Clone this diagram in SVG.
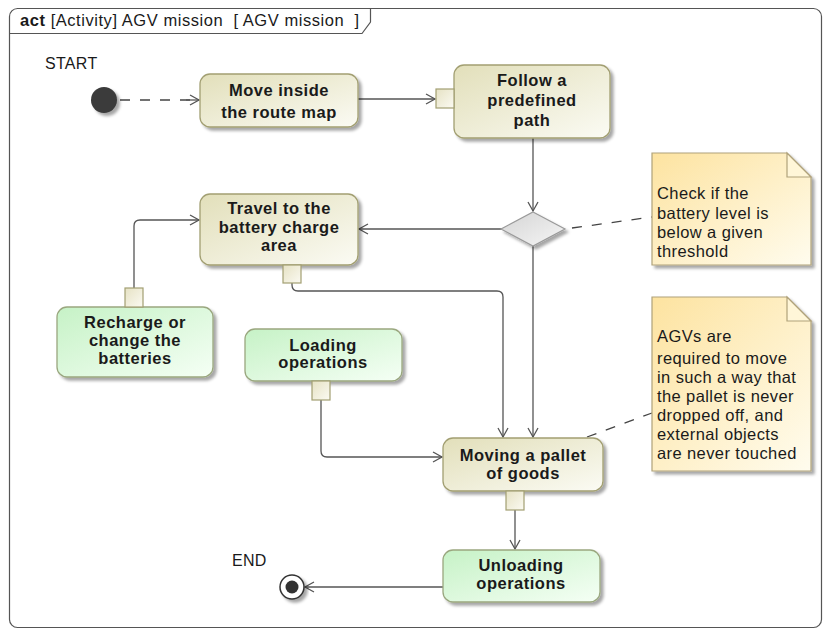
<svg xmlns="http://www.w3.org/2000/svg" width="830" height="630" viewBox="0 0 830 630">
  <defs>
    <linearGradient id="actFill" x1="0" y1="0" x2="1" y2="1">
      <stop offset="0" stop-color="#e2dfba"/>
      <stop offset="1" stop-color="#fbfbf4"/>
    </linearGradient>
    <linearGradient id="greenFill" x1="0" y1="0" x2="1" y2="1">
      <stop offset="0" stop-color="#c6f2c6"/>
      <stop offset="1" stop-color="#f5fff5"/>
    </linearGradient>
    <linearGradient id="noteFill" x1="0" y1="0" x2="1" y2="1">
      <stop offset="0" stop-color="#fde3a0"/>
      <stop offset="1" stop-color="#fffcee"/>
    </linearGradient>
    <linearGradient id="decisionFill" x1="0" y1="0" x2="1" y2="1">
      <stop offset="0" stop-color="#d4d4d4"/>
      <stop offset="1" stop-color="#f6f6f6"/>
    </linearGradient>
    <linearGradient id="pinFill" x1="0" y1="0" x2="1" y2="1">
      <stop offset="0" stop-color="#e6e2c4"/>
      <stop offset="1" stop-color="#fbfaf2"/>
    </linearGradient>
    <filter id="shadow" x="-10%" y="-10%" width="130%" height="140%">
      <feDropShadow dx="3" dy="3" stdDeviation="1.4" flood-color="#000" flood-opacity="0.35"/>
    </filter>
    <marker id="open" markerUnits="userSpaceOnUse" markerWidth="12" markerHeight="12" refX="10" refY="6" orient="auto">
      <path d="M1,1 L10,6 L1,11" fill="none" stroke="#555" stroke-width="1.3"/>
    </marker>
  </defs>
  <style>
    text { font-family: "Liberation Sans", Arial, sans-serif; fill: #1a1a1a; }
    .lbl { font-size: 16.5px; font-weight: bold; letter-spacing: 0.5px; text-anchor: middle; }
    .note-t { font-size: 16.5px; letter-spacing: 0.4px; }
    .plain { font-size: 16px; letter-spacing: 0.3px; }
    .act { fill: url(#actFill); stroke: #a29f72; stroke-width: 1.3; filter: url(#shadow); }
    .green { fill: url(#greenFill); stroke: #9aa77f; stroke-width: 1.3; filter: url(#shadow); }
    .pin { fill: url(#pinFill); stroke: #a29f72; stroke-width: 1.2; }
    .note { fill: url(#noteFill); stroke: #b0a27a; stroke-width: 1.2; filter: url(#shadow); }
    .fold { fill: #fff6d8; stroke: #b0a27a; stroke-width: 1.2; }
    .flow { fill: none; stroke: #555; stroke-width: 1.3; marker-end: url(#open); }
    .anchor { fill: none; stroke: #444; stroke-width: 1.3; stroke-dasharray: 10 10; }
  </style>

  <!-- activity frame -->
  <g id="frame">
    <rect x="9.5" y="8.5" width="812" height="619" rx="8" fill="#fff" stroke="#555" stroke-width="1.2"/>
    <path d="M9.5,33.5 L362,33.5 L370.5,22 L370.5,8.5" fill="none" stroke="#555" stroke-width="1.2"/>
    <text x="20" y="26" xml:space="preserve" style="font-size:16.5px;letter-spacing:0.55px;white-space:pre"><tspan font-weight="bold">act</tspan> [Activity] AGV mission  [ AGV mission  ]</text>
  </g>

  <!-- control flows -->
  <g id="connectors">
    <path class="anchor" d="M120,100 L190,100"/>
    <path class="flow" d="M186,100 L199,100"/>
    <path class="flow" d="M358,99 L435,99"/>
    <path class="flow" d="M533,138 L533,211"/>
    <path class="flow" d="M502,229 L359,229"/>
    <path class="flow" d="M533,246 L533,437"/>
    <path class="flow" d="M292,283 L292,285 Q292,291 298,291 L497,291 Q503,291 503,297 L503,437"/>
    <path class="flow" d="M134,288 L134,226 Q134,220 140,220 L199,220"/>
    <path class="flow" d="M321,400 L321,451 Q321,457 327,457 L442,457"/>
    <path class="flow" d="M515,510 L515,549"/>
    <path class="flow" d="M443,587 L305,587"/>
    <path class="anchor" d="M572,228 L652,217"/>
    <path class="anchor" d="M587,437 L652,413"/>
  </g>

  <g id="start">
    <text class="plain" x="45" y="69">START</text>
    <circle cx="104" cy="100" r="13" fill="#3a3a3a" filter="url(#shadow)"/>
  </g>

  <g id="move-inside">
    <rect class="act" x="200" y="74" width="158" height="53" rx="10"/>
    <text class="lbl" x="279" y="96">Move inside</text>
    <text class="lbl" x="279" y="118">the route map</text>
  </g>

  <g id="follow-path">
    <rect class="act" x="454" y="65" width="156" height="73" rx="10"/>
    <rect class="pin" x="436" y="89" width="18" height="19"/>
    <text class="lbl" x="532" y="86">Follow a</text>
    <text class="lbl" x="532" y="106">predefined</text>
    <text class="lbl" x="532" y="126">path</text>
  </g>

  <g id="battery-check">
    <path d="M533,212 L565,229 L533,246 L501,229 Z" fill="url(#decisionFill)" stroke="#9a9a9a" stroke-width="1.2" filter="url(#shadow)"/>
  </g>

  <g id="note-battery">
    <path class="note" d="M652,153 L787,153 L811,177 L811,265 L652,265 Z"/>
    <path class="fold" d="M787,153 L787,177 L811,177 Z"/>
    <text class="note-t" x="657" y="199">Check if the</text>
    <text class="note-t" x="657" y="219">battery level is</text>
    <text class="note-t" x="657" y="238">below a given</text>
    <text class="note-t" x="657" y="257">threshold</text>
  </g>

  <g id="travel-charge">
    <rect class="act" x="200" y="194" width="158" height="71" rx="10"/>
    <rect class="pin" x="283" y="265" width="18" height="18"/>
    <text class="lbl" x="279" y="214">Travel to the</text>
    <text class="lbl" x="279" y="233">battery charge</text>
    <text class="lbl" x="279" y="251">area</text>
  </g>

  <g id="recharge">
    <rect class="green" x="57" y="307" width="156" height="70" rx="10"/>
    <rect class="pin" x="125" y="288" width="18" height="19"/>
    <text class="lbl" x="135" y="328">Recharge or</text>
    <text class="lbl" x="135" y="346">change the</text>
    <text class="lbl" x="135" y="364">batteries</text>
  </g>

  <g id="loading">
    <rect class="green" x="245" y="329" width="157" height="52" rx="10"/>
    <rect class="pin" x="312" y="381" width="18" height="19"/>
    <text class="lbl" x="323" y="351">Loading</text>
    <text class="lbl" x="323" y="368">operations</text>
  </g>

  <g id="note-pallet">
    <path class="note" d="M652,297 L787,297 L811,321 L811,471 L652,471 Z"/>
    <path class="fold" d="M787,297 L787,321 L811,321 Z"/>
    <text class="note-t" x="657" y="342">AGVs are</text>
    <text class="note-t" x="657" y="364">required to move</text>
    <text class="note-t" x="657" y="383">in such a way that</text>
    <text class="note-t" x="657" y="402">the pallet is never</text>
    <text class="note-t" x="657" y="421">dropped off, and</text>
    <text class="note-t" x="657" y="440">external objects</text>
    <text class="note-t" x="657" y="459">are never touched</text>
  </g>

  <g id="moving-pallet">
    <rect class="act" x="443" y="438" width="160" height="53" rx="10"/>
    <rect class="pin" x="506" y="491" width="18" height="19"/>
    <text class="lbl" x="523" y="461">Moving a pallet</text>
    <text class="lbl" x="523" y="479">of goods</text>
  </g>

  <g id="unloading">
    <rect class="green" x="443" y="550" width="157" height="52" rx="10"/>
    <text class="lbl" x="521" y="571">Unloading</text>
    <text class="lbl" x="521" y="589">operations</text>
  </g>

  <g id="end">
    <text class="plain" x="232" y="566">END</text>
    <g filter="url(#shadow)">
      <circle cx="292" cy="587" r="12" fill="#fff" stroke="#333" stroke-width="1.5"/>
      <circle cx="292" cy="587" r="6.5" fill="#333"/>
    </g>
  </g>
</svg>
